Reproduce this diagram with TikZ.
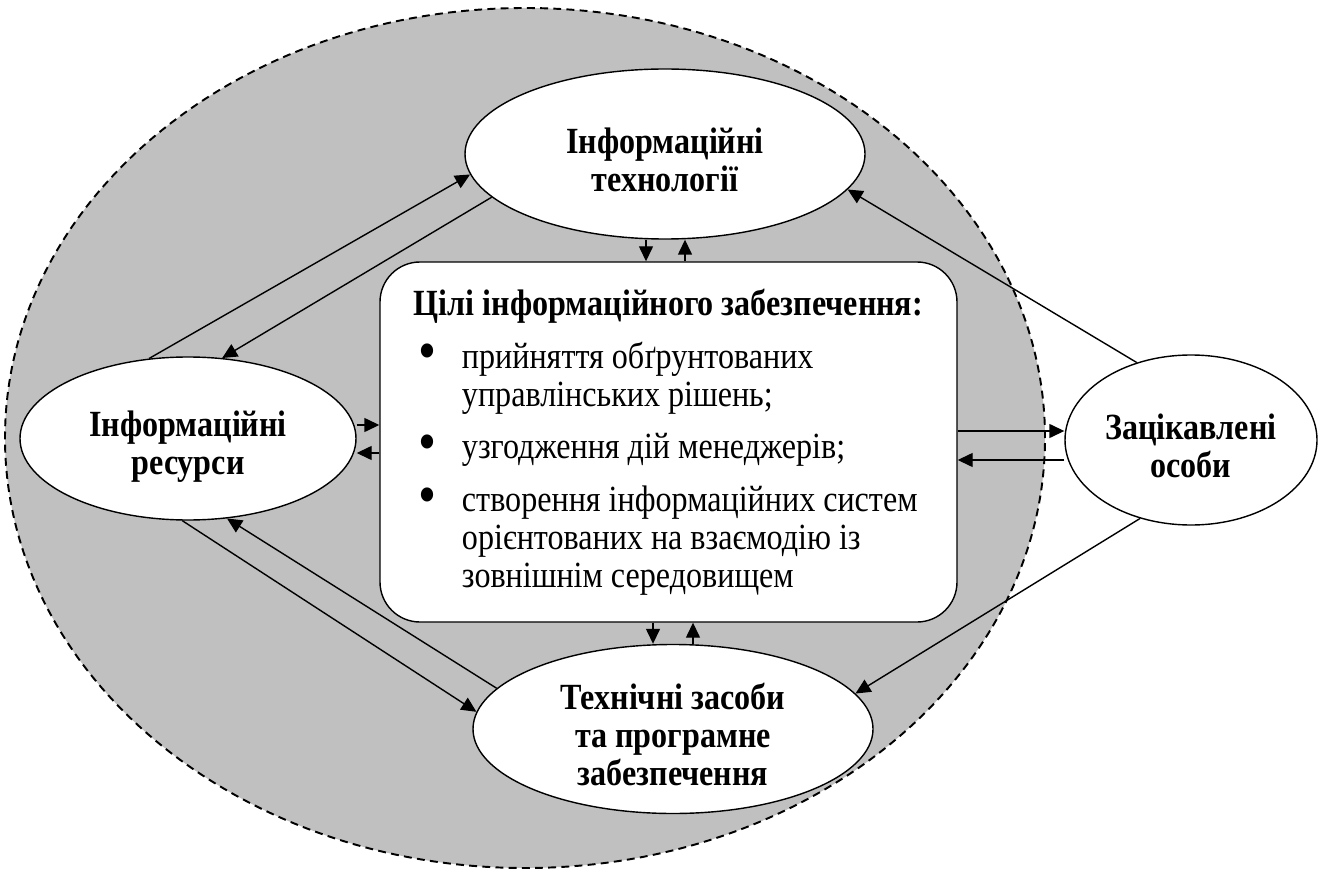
\documentclass[tikz,border=0pt]{standalone}
\usepackage{fontspec}
\setmainfont{Liberation Serif}[FakeStretch=0.87]
\usetikzlibrary{shapes,arrows.meta,positioning}
\definecolor{fon}{RGB}{192,192,192}
\newcommand{\dott}{\hspace*{0.1cm}\makebox[0.86cm][l]{\smash{\raisebox{-0.05cm}{\scalebox{1.6}{\textbullet}}}}}
\newcommand{\ind}{\hspace*{0.96cm}}

\begin{document}
\begin{tikzpicture}[
                  every node/.style={draw,line width=0.8pt,fill=white,align=center,inner sep=0pt,
                                     font=\fontsize{21}{21.5}\selectfont\bfseries},
                  oval/.style={ellipse},
                  goal/.style={rectangle,rounded corners=0.8cm,align=left,
                               font=\fontsize{21}{21.5}\selectfont},
                  arr/.style={line width=0.8pt,-{Triangle[length=0.3cm,width=0.28cm]}},
            ]
            \useasboundingbox (0,0) rectangle (26.42,-17.5);
            \draw[fill=fon,line width=1.1pt,dash pattern=on 4.5pt off 3pt] (10.5,-8.76) ellipse (10.4cm and 8.6cm);

            \node[oval,minimum width=8cm,minimum height=3.4cm] (e1) at (13.30,-3.08) {\rule{0pt}{0.75cm}Інформаційні\\технології};
            \node[oval,minimum width=6.72cm,minimum height=3.26cm] (e2) at (3.76,-8.77) {\rule{0pt}{0.85cm}Інформаційні\\ресурси};
            \node[oval,minimum width=8cm,minimum height=3.38cm] (e3) at (13.46,-14.58) {\rule{0pt}{0.75cm}Технічні засоби\\та програмне\\забезпечення};
            \node[oval,minimum width=5.04cm,minimum height=3.4cm] (e4) at (23.82,-8.80) {\rule{0pt}{0.75cm}Зацікавлені\\особи};

            \node[goal,minimum width=11.54cm,minimum height=7.2cm] (g) at (13.37,-8.84) {%
                  \textbf{Цілі інформаційного забезпечення:}\\[0.3cm]
                  \dott прийняття обґрунтованих\\
                  \ind управлінських рішень;\\[0.3cm]
                  \dott узгодження дій менеджерів;\\[0.3cm]
                  \dott створення інформаційних систем\\
                  \ind орієнтованих на взаємодію із\\
                  \ind зовнішнім середовищем};

            % ресурси <-> технології
            \draw[arr] (e2.116.6) -- (e1.186.2);
            \draw[arr] (e1.194.3) -- (e2.67.9);

            % ресурси <-> засоби
            \draw[arr] (e2.266) -- (e3.175.4);
            \draw[arr] (e3.167.8) -- (e2.296);

            % особи -> технології, засоби
            \draw[arr] (e4.125) -- (e1.349);
            \draw[arr] (e4.237.1) -- (e3.11.1);

            % цілі <-> особи
            \draw[arr] ([yshift=0.22cm]g.east) -- ([yshift=0.22cm]g.east -| e4.west);
            \draw[arr] ([yshift=-0.36cm]g.east -| e4.west) -- ([yshift=-0.36cm]g.east);

            % ресурси <-> цілі
            \draw[arr] ([yshift=0.34cm]g.west -| e2.east) -- ([yshift=0.34cm]g.west);
            \draw[arr] ([yshift=-0.22cm]g.west) -- ([yshift=-0.22cm]g.west -| e2.east);

            % технології <-> цілі
            \draw[arr] ([xshift=-0.45cm]g.north |- e1.south) -- ([xshift=-0.45cm]g.north);
            \draw[arr] ([xshift=0.33cm]g.north) -- ([xshift=0.33cm]g.north |- e1.south);

            % цілі <-> засоби
            \draw[arr] ([xshift=-0.31cm]g.south) -- ([xshift=-0.31cm]g.south |- e3.north);
            \draw[arr] ([xshift=0.49cm]g.south |- e3.north) -- ([xshift=0.49cm]g.south);
      \end{tikzpicture}
\end{document}
